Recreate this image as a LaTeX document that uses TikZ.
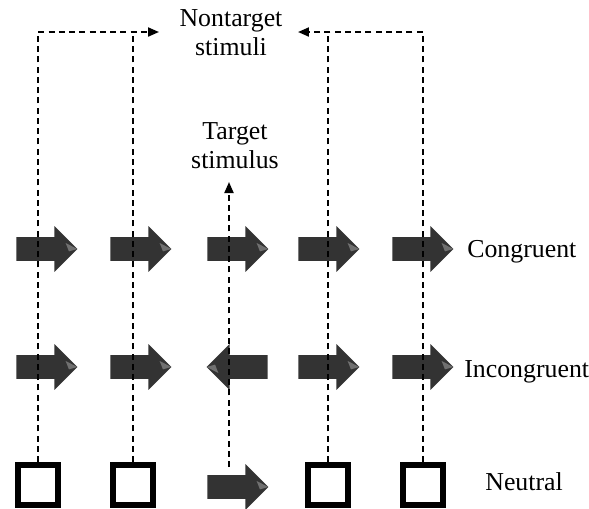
\documentclass[tikz,border=0pt]{standalone}
\usepackage{fontspec}
\setmainfont{Liberation Serif}
\usetikzlibrary{arrows.meta, shapes.arrows}

\definecolor{arrowgray}{HTML}{333333}
\definecolor{shinegray}{HTML}{707070}

\begin{document}
\begin{tikzpicture}[
        x=0.02cm, y=-0.02cm,
        stim/.style={single arrow, single arrow head extend=0.22cm, minimum height=1.22cm, inner xsep=0, inner ysep=0.23cm, fill=arrowgray, anchor=tail},
        rightstim/.style={stim, path picture={\fill[shinegray] (path picture bounding box.east) -- ++(-0.234cm,0.12cm) -- ++(0.066cm,-0.168cm) -- cycle;}},
        leftstim/.style={stim, shape border rotate=180, path picture={\fill[shinegray] (path picture bounding box.west) -- ++(0.234cm,-0.12cm) -- ++(-0.066cm,0.168cm) -- cycle;}},
        blank/.style={rectangle, draw=black, line width=0.12cm, minimum size=0.8cm, inner sep=0, fill=white},
        lab/.style={font=\fontsize{14.7}{16.5}\selectfont, inner sep=0, align=center},
        link/.style={draw=black, line width=0.04cm, dash pattern=on 0.12cm off 0.085cm},
        tip/.style={-{Triangle[length=0.22cm, width=0.18cm]}}
    ]
        \useasboundingbox (0,0) rectangle (589,508);

        % congruent row (placed by tail)
        \node[rightstim] (c1) at (16,249) {};
        \node[rightstim] (c2) at (110,249) {};
        \node[rightstim] (c3) at (207,249) {};
        \node[rightstim] (c4) at (298,249) {};
        \node[rightstim] (c5) at (392,249) {};

        % incongruent row
        \node[rightstim] (i1) at (16,367) {};
        \node[rightstim] (i2) at (110,367) {};
        \node[leftstim] (i3) at (268,367) {};
        \node[rightstim] (i4) at (298,367) {};
        \node[rightstim] (i5) at (392,367) {};

        % neutral row
        \node[blank] (n1) at (38,485) {};
        \node[blank] (n2) at (133,485) {};
        \node[rightstim] (n3) at (207,487) {};
        \node[blank] (n4) at (328,485) {};
        \node[blank] (n5) at (423,485) {};

        \node[lab, anchor=north] (nontarget) at (231,9) {Nontarget\\stimuli};
        \node[lab, anchor=north] (target) at (235,122) {Target\\stimulus};
        \node[lab, anchor=base west] (congr) at (467,257) {Congruent};
        \node[lab, anchor=base west] (incongr) at (464,377) {Incongruent};
        \node[lab, anchor=base west] (neutral) at (485,490) {Neutral};

        \coordinate (leftend) at (159,32);
        \coordinate (rightend) at (298,32);
        \coordinate (tgtfoot) at (229,467);
        \coordinate (tgttip) at (229,182);

        \draw[link, tip] (n1.north) |- (leftend);
        \draw[link] (n2.north) -- (n2.north |- leftend);
        \draw[link, tip] (n5.north) |- (rightend);
        \draw[link] (n4.north) -- (n4.north |- rightend);
        \draw[link, tip] (tgtfoot) -- (tgttip);
    \end{tikzpicture}
\end{document}
